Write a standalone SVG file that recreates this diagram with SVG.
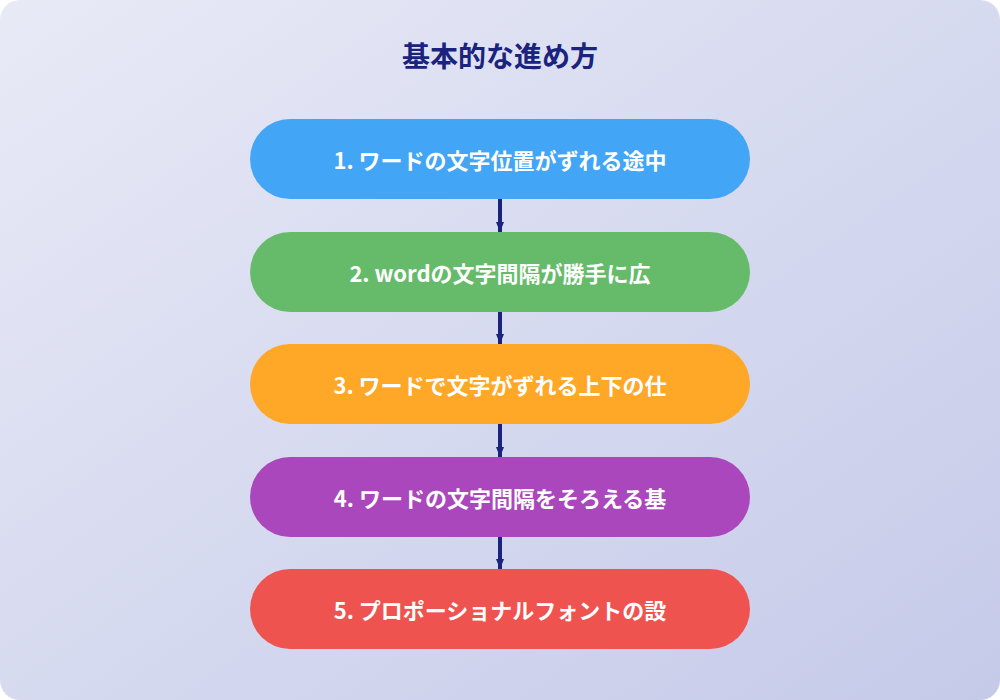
<svg xmlns="http://www.w3.org/2000/svg" width="1000" height="700" viewBox="0 0 1000 700">
<defs>
<linearGradient id="bg" x1="0" y1="0" x2="1" y2="1"><stop offset="0" stop-color="#e8eaf6"/><stop offset="1" stop-color="#c5cae9"/></linearGradient>
<marker id="ah" markerWidth="10" markerHeight="8" refX="10" refY="4" orient="auto" markerUnits="userSpaceOnUse" viewBox="0 0 10 8"><path d="M0,0 L10,4 L0,8 Z" fill="#1a237e"/></marker>
</defs>
<style>
.n{stroke:none}
.t{font-family:"Noto Sans CJK JP","Noto Sans",sans-serif;font-weight:bold;font-size:22px;fill:#fff;text-anchor:middle;dominant-baseline:central}
.c{stroke:#1a237e;stroke-width:4;fill:none}
</style>
<rect width="1000" height="700" rx="20" fill="url(#bg)"/>
<text x="500" y="55" font-family="Noto Sans CJK JP,sans-serif" font-weight="bold" font-size="28" fill="#1a237e" text-anchor="middle" dominant-baseline="central">基本的な進め方</text>
<g id="connectors">
<line class="c" x1="500" y1="199" x2="500" y2="232" marker-end="url(#ah)"/>
<line class="c" x1="500" y1="312" x2="500" y2="344" marker-end="url(#ah)"/>
<line class="c" x1="500" y1="424" x2="500" y2="457" marker-end="url(#ah)"/>
<line class="c" x1="500" y1="537" x2="500" y2="569" marker-end="url(#ah)"/>
</g>
<g id="n1"><rect class="n" x="250" y="119" width="500" height="80" rx="40" fill="#42a5f5"/><text class="t" x="500" y="159">1. ワードの文字位置がずれる途中</text></g>
<g id="n2"><rect class="n" x="250" y="232" width="500" height="80" rx="40" fill="#66bb6a"/><text class="t" x="500" y="272">2. wordの文字間隔が勝手に広</text></g>
<g id="n3"><rect class="n" x="250" y="344" width="500" height="80" rx="40" fill="#ffa726"/><text class="t" x="500" y="384">3. ワードで文字がずれる上下の仕</text></g>
<g id="n4"><rect class="n" x="250" y="457" width="500" height="80" rx="40" fill="#ab47bc"/><text class="t" x="500" y="497">4. ワードの文字間隔をそろえる基</text></g>
<g id="n5"><rect class="n" x="250" y="569" width="500" height="80" rx="40" fill="#ef5350"/><text class="t" x="500" y="609">5. プロポーショナルフォントの設</text></g>
</svg>
